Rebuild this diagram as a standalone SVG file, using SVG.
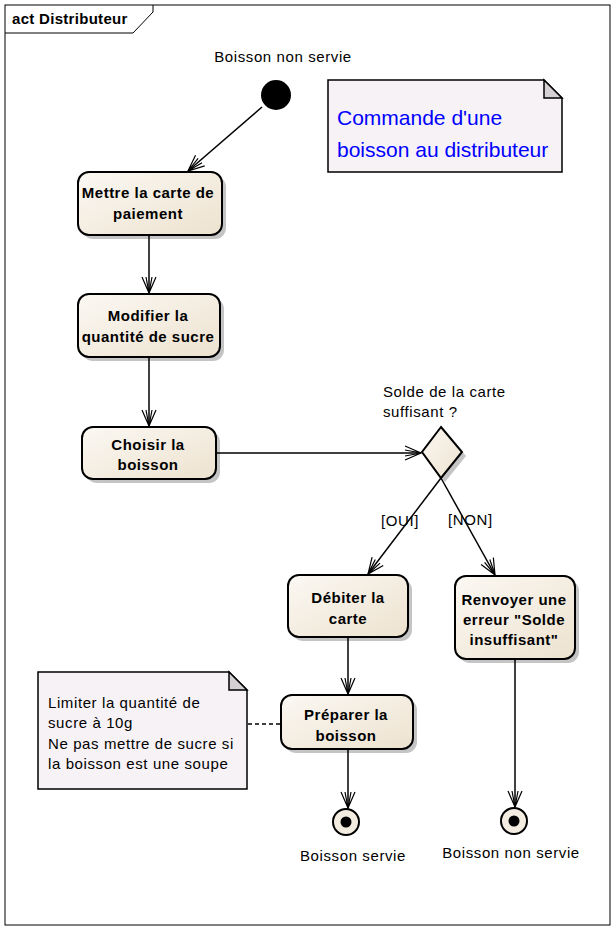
<svg xmlns="http://www.w3.org/2000/svg" width="616" height="931" viewBox="0 0 616 931">
<defs>
<linearGradient id="g" x1="0" y1="0" x2="1" y2="1">
<stop offset="0" stop-color="#fbf8f3"/>
<stop offset="1" stop-color="#ede2cf"/>
</linearGradient>
<marker id="arr" markerWidth="20" markerHeight="20" viewBox="-18 -10 20 20" refX="0" refY="0" orient="auto" markerUnits="userSpaceOnUse">
<path d="M-16,-7 L0,0 L-16,7 M-16,-3 L0,0 L-16,3" fill="none" stroke="#000" stroke-width="1.2"/>
</marker>
</defs>
<style>
.act{fill:url(#g);stroke:#000;stroke-width:2}
.sh{fill:#c4c4c4}
.bt{font-family:"Liberation Sans",Arial,sans-serif;font-size:15px;letter-spacing:0.5px;font-weight:bold;text-anchor:middle;fill:#000}
.nt{font-family:"Liberation Sans",Arial,sans-serif;font-size:15px;letter-spacing:0.6px;fill:#000}
.note{fill:#f6f2f6;stroke:#000;stroke-width:1.5}
.fold{fill:#d4d0d4;stroke:#000;stroke-width:1.5}
.c{fill:none;stroke:#000;stroke-width:1.5;marker-end:url(#arr)}
</style>
<rect x="0" y="0" width="616" height="931" fill="#fff"/>
<g id="frame">
<rect x="5" y="5" width="605" height="920" fill="none" stroke="#000" stroke-width="1"/>
<path d="M5,33 L133,33 L153,12 L153,5" fill="none" stroke="#000" stroke-width="1"/>
<text x="12" y="24" font-family="Liberation Sans,Arial,sans-serif" font-size="15" letter-spacing="0.3" font-weight="bold">act Distributeur</text>
</g>
<g id="start">
<circle cx="276" cy="95" r="15" fill="#000"/>
<text x="283" y="62" class="nt" text-anchor="middle">Boisson non servie</text>
</g>
<g id="noteTitle">
<path d="M328,80 L544,80 L562,98 L562,172 L328,172 Z" class="note"/>
<path d="M544,80 L544,98 L562,98 Z" class="fold"/>
<text x="337" y="125" font-family="Liberation Sans,Arial,sans-serif" font-size="21" fill="#0000ff">Commande d'une</text>
<text x="337" y="157" font-family="Liberation Sans,Arial,sans-serif" font-size="21" fill="#0000ff">boisson au distributeur</text>
</g>
<g id="mettre">
<rect x="82" y="176" width="144" height="63" rx="11" class="sh"/>
<rect x="78" y="172" width="144" height="63" rx="11" class="act"/>
<text x="148" y="198" class="bt">Mettre la carte de</text>
<text x="148" y="219" class="bt">paiement</text>
</g>
<g id="modifier">
<rect x="82" y="298" width="142" height="63" rx="11" class="sh"/>
<rect x="78" y="294" width="142" height="63" rx="11" class="act"/>
<text x="148" y="321" class="bt">Modifier la</text>
<text x="148" y="342" class="bt">quantité de sucre</text>
</g>
<g id="choisir">
<rect x="86" y="431" width="134" height="52" rx="11" class="sh"/>
<rect x="82" y="427" width="134" height="52" rx="11" class="act"/>
<text x="148" y="450" class="bt">Choisir la</text>
<text x="148" y="470" class="bt">boisson</text>
</g>
<g id="decision">
<path d="M445,431 L466,456 L445,482 L426,456 Z" class="sh"/>
<path d="M441,427 L462,452 L441,478 L422,452 Z" class="act"/>
<text x="383" y="397" class="nt">Solde de la carte</text>
<text x="383" y="417" class="nt">suffisant ?</text>
</g>
<g id="debiter">
<rect x="292" y="579" width="120" height="62" rx="11" class="sh"/>
<rect x="288" y="575" width="120" height="62" rx="11" class="act"/>
<text x="348" y="603" class="bt">Débiter la</text>
<text x="348" y="624" class="bt">carte</text>
</g>
<g id="renvoyer">
<rect x="459" y="580" width="120" height="83" rx="11" class="sh"/>
<rect x="455" y="576" width="120" height="83" rx="11" class="act"/>
<text x="514" y="605" class="bt">Renvoyer une</text>
<text x="514" y="625" class="bt">erreur "Solde</text>
<text x="514" y="645" class="bt">insuffisant"</text>
</g>
<g id="preparer">
<rect x="285" y="699" width="132" height="54" rx="11" class="sh"/>
<rect x="281" y="695" width="132" height="54" rx="11" class="act"/>
<text x="346" y="720" class="bt">Préparer la</text>
<text x="346" y="741" class="bt">boisson</text>
</g>
<g id="noteSucre">
<path d="M38,672 L229,672 L247,690 L247,789 L38,789 Z" class="note"/>
<path d="M229,672 L229,690 L247,690 Z" class="fold"/>
<text x="48" y="708" class="nt">Limiter la quantité de</text>
<text x="48" y="728" class="nt">sucre à 10g</text>
<text x="48" y="749" class="nt">Ne pas mettre de sucre si</text>
<text x="48" y="769" class="nt">la boisson est une soupe</text>
</g>
<g id="end1">
<circle cx="346" cy="822" r="13" fill="#f3ece0" stroke="#000" stroke-width="2"/>
<circle cx="346" cy="822" r="5.5" fill="#000"/>
<text x="353" y="861" class="nt" text-anchor="middle">Boisson servie</text>
</g>
<g id="end2">
<circle cx="514" cy="821" r="13" fill="#f3ece0" stroke="#000" stroke-width="2"/>
<circle cx="514" cy="821" r="5.5" fill="#000"/>
<text x="511" y="858" class="nt" text-anchor="middle">Boisson non servie</text>
</g>
<g id="connectors">
<line x1="262" y1="107" x2="188" y2="171" class="c"/>
<line x1="149" y1="235" x2="149" y2="293" class="c"/>
<line x1="149" y1="357" x2="149" y2="426" class="c"/>
<line x1="216" y1="453" x2="421" y2="453" class="c"/>
<line x1="441" y1="478" x2="368" y2="574" class="c"/>
<line x1="441" y1="478" x2="495" y2="575" class="c"/>
<line x1="348" y1="637" x2="348" y2="694" class="c"/>
<line x1="348" y1="749" x2="348" y2="808" class="c"/>
<line x1="515" y1="659" x2="515" y2="807" class="c"/>
<line x1="248" y1="724" x2="281" y2="724" stroke="#000" stroke-width="1.5" stroke-dasharray="4,3"/>
<text x="381" y="526" class="nt">[OUI]</text>
<text x="448" y="525" class="nt">[NON]</text>
</g>
</svg>
